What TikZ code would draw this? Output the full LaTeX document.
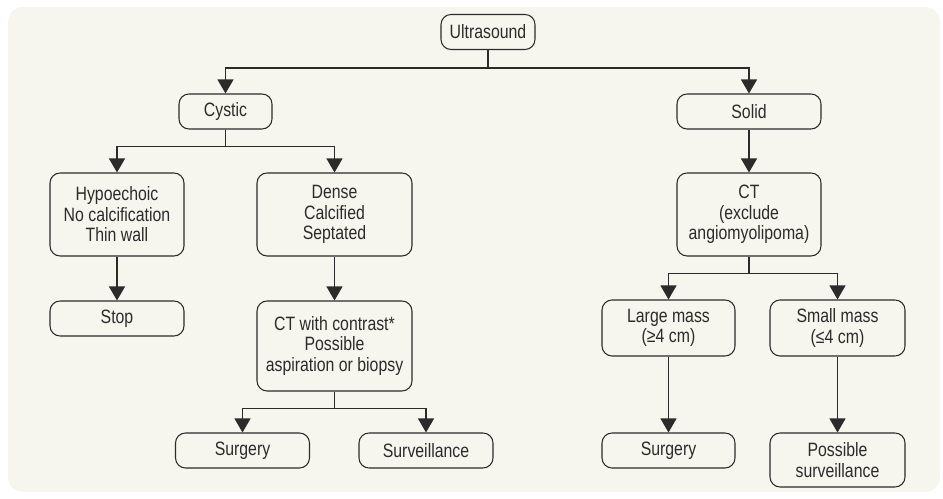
\documentclass[tikz,border=0pt]{standalone}
\usepackage{fontspec}
\setmainfont{Liberation Sans}[FakeStretch=0.82]
\usetikzlibrary{arrows.meta,positioning}
\definecolor{bgcream}{HTML}{F6F5EE}
\definecolor{inkgray}{HTML}{2B2B2B}

\begin{document}
\begin{tikzpicture}[
  x=0.02cm, y=-0.02cm,
  box/.style={rectangle, rounded corners=0.2cm, draw=inkgray, line width=0.6pt,
              minimum width=#1, minimum height=0.7cm, align=center,
              font=\fontsize{11}{11.7}\selectfont, text=inkgray, inner sep=1pt},
  box/.default=2.68cm,
  arr/.style={-{Triangle[length=0.28cm, width=0.32cm]}, line width=0.6pt, draw=inkgray}
]

%% -- Background ---------------------------------------------------
\useasboundingbox (0,0) rectangle (943,499);
\fill[bgcream, rounded corners=0.3cm] (8,7) rectangle (940,492);

%% -- Nodes --------------------------------------------------------
\node[box=1.88cm] (us) at (488,32) {Ultrasound};

\node[box=1.86cm] (cyst) at (225.5,111.5) {Cystic};
\node[box=2.88cm] (solid) at (749,111.5) {Solid};

\node[box, minimum height=1.66cm] (hypo) at (117,214.5)
  {Hypoechoic\\No calcification\\Thin wall};
\node[box=3.1cm, minimum height=1.66cm] (dense) at (334.5,214.5)
  {Dense\\Calcified\\Septated};
\node[box] (stop) at (117,318.5) {Stop};

\node[box=3.1cm, minimum height=1.8cm] (ctc) at (334.5,346)
  {CT with contrast*\\Possible\\aspiration or biopsy};
\node[box] (surg1) at (242.5,450.5) {Surgery};
\node[box] (surv) at (426,450.5) {Surveillance};

\node[box=2.88cm, minimum height=1.66cm] (ct) at (749,214.5)
  {CT\\(exclude\\angiomyolipoma)};
\node[box=2.66cm, minimum height=1.12cm] (large) at (668.5,328)
  {Large mass\\(≥4 cm)};
\node[box=2.7cm, minimum height=1.12cm] (small) at (837.5,328)
  {Small mass\\(≤4 cm)};
\node[box=2.66cm] (surg2) at (668.5,450.5) {Surgery};
\node[box=2.7cm, minimum height=1.08cm] (psurv) at (837.5,460)
  {Possible\\surveillance};

%% -- Arrows -------------------------------------------------------
\draw[arr] (us.south) -- ++(0,18) -| (cyst.north);
\draw[arr] (us.south) -- ++(0,18) -| (solid.north);

\draw[arr] (cyst.south) -- ++(0,17) -| (hypo.north);
\draw[arr] (cyst.south) -- ++(0,17) -| (dense.north);
\draw[arr] (hypo) -- (stop);
\draw[arr] (dense) -- (ctc);
\draw[arr] (ctc.south) -- ++(0,17) -| (surg1.north);
\draw[arr] (ctc.south) -- ++(0,17) -| (surv.north);

\draw[arr] (solid) -- (ct);
\draw[arr] (ct.south) -- ++(0,17) -| (large.north);
\draw[arr] (ct.south) -- ++(0,17) -| (small.north);
\draw[arr] (large) -- (surg2);
\draw[arr] (small) -- (psurv);

\end{tikzpicture}
\end{document}
